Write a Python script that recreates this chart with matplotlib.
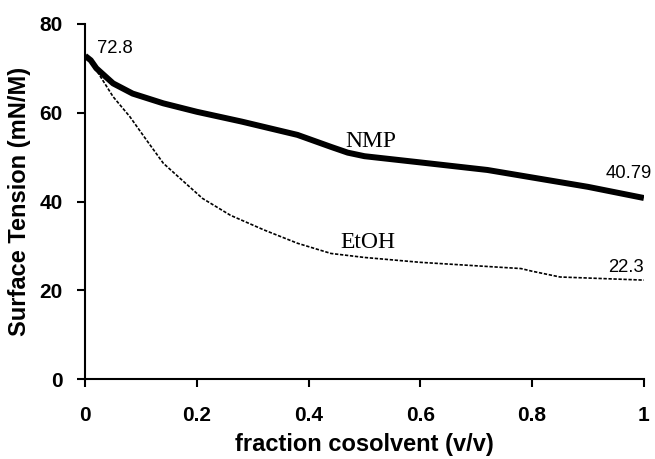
import matplotlib
matplotlib.use('Agg')
from matplotlib import pyplot as plt

# surface tension of water/cosolvent mixtures
nmp_x = [0, 0.01, 0.02, 0.05, 0.085, 0.14, 0.2, 0.28, 0.32, 0.38, 0.44, 0.47, 0.5, 0.6, 0.72, 0.81, 0.9, 1.0]
nmp_y = [72.8, 71.8, 70.0, 66.6, 64.3, 62.1, 60.2, 58.0, 56.8, 55.0, 52.3, 51.0, 50.2, 48.8, 47.1, 45.2, 43.3, 40.79]

etoh_x = [0, 0.02, 0.05, 0.08, 0.11, 0.14, 0.17, 0.21, 0.26, 0.32, 0.38, 0.44, 0.5, 0.6, 0.78, 0.8, 0.85, 1.0]
etoh_y = [72.8, 69.6, 63.6, 59.1, 53.8, 48.6, 45.2, 40.7, 36.9, 33.6, 30.6, 28.3, 27.4, 26.3, 24.9, 24.3, 23.0, 22.3]

x_ticks = [0, 0.2, 0.4, 0.6, 0.8, 1]
x_tick_labels = ['0', '0.2', '0.4', '0.6', '0.8', '1']
y_ticks = [0, 20, 40, 60, 80]

plt.rcParams['font.family'] = ['Liberation Sans', 'DejaVu Sans']

fig = plt.figure(figsize=(6.55, 4.59), dpi=100)
ax = fig.add_axes([0.130, 0.174, 0.853, 0.774])

ax.plot(nmp_x, nmp_y, color='black', lw=4.3, solid_capstyle='butt',
        solid_joinstyle='round')
ax.plot(etoh_x, etoh_y, color='black', lw=1.2, linestyle=(0, (2, 1)))

ax.set_xlim(0, 1)
ax.set_ylim(0, 80)
ax.set_xticks(x_ticks)
ax.set_xticklabels(x_tick_labels)
ax.set_yticks(y_ticks)

for side in ('top', 'right'):
    ax.spines[side].set_visible(False)
for side in ('left', 'bottom'):
    ax.spines[side].set_linewidth(1.5)

ax.tick_params(direction='out', length=6, width=1.5, labelsize=15, pad=10)
for lbl in ax.get_xticklabels() + ax.get_yticklabels():
    lbl.set_fontweight('bold')
ax.tick_params(axis='x', pad=13)

ax.set_xlabel('fraction cosolvent (v/v)', fontsize=17, fontweight='bold', labelpad=6)
ax.set_ylabel('Surface Tension (mN/M)', fontsize=17, fontweight='bold', labelpad=6)

# end-point values
ax.text(0.0215, 73.4, '72.8', fontsize=13.3, va='baseline', ha='left')
ax.text(1.014, 45.2, '40.79', fontsize=13.3, va='baseline', ha='right', clip_on=False)
ax.text(1.0, 24.2, '22.3', fontsize=13.3, va='baseline', ha='right')

# series labels
ax.text(0.465, 52.3, 'NMP', family=['Liberation Serif'], fontsize=17, va='baseline', ha='left')
ax.text(0.456, 29.5, 'EtOH', family=['Liberation Serif'], fontsize=17, va='baseline', ha='left')

fig.savefig('out.png', dpi=100)
